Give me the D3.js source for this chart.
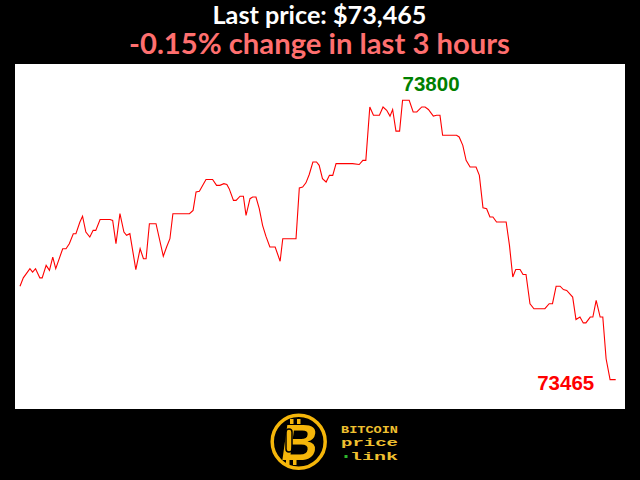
<!DOCTYPE html>
<html><head><meta charset="utf-8">
<script src="https://cdn.jsdelivr.net/npm/d3@7"></script>
<style>html,body{margin:0;padding:0;background:#000;} svg{display:block}</style>
</head><body>
<script>
// minutes since start of the 3-hour window (vertices of the price line)
const minutes = [0,1.0,3.0,3.8,4.7,6.0,6.7,7.9,8.9,9.9,
10.8,12.9,13.9,14.9,16.1,16.9,18.1,18.9,19.9,21.1,
22.1,22.9,24.2,27.2,28.0,29.0,30.2,31.4,32.2,33.2,
35.0,36.3,37.3,38.1,39.1,41.1,43.3,44.3,45.3,46.2,
51.2,52.3,53.2,54.2,56.2,58.2,59.4,60.4,61.6,62.5,
63.2,64.5,65.3,66.5,67.5,68.3,69.5,70.3,71.3,72.3,
73.3,74.3,75.5,77.1,78.6,79.4,83.4,84.4,85.4,86.4,
87.4,88.5,89.6,90.4,91.4,92.5,93.5,94.5,95.5,100.5,
102.5,103.6,104.5,105.7,106.8,108.6,109.7,110.8,111.8,112.6,
113.6,114.7,115.6,117.6,118.8,119.9,121.4,122.4,123.4,124.9,
125.9,126.9,127.7,131.9,132.7,133.8,134.8,136.0,137.8,138.8,
139.9,141.0,142.0,142.9,144.0,146.9,147.9,148.9,149.8,151.1,
152.0,152.9,154.1,155.3,158.6,159.9,160.9,162.0,163.2,164.2,
165.2,167.0,168.0,169.2,170.2,171.0,172.3,173.1,174.1,175.3,
176.1,177.1,178.3,180];
// BTC price in USD at each vertex
const prices = [73577,73587,73598,73594,73598,73587,73587,73602,73596,73612,
73598,73622,73622,73628,73640,73640,73654,73661,73642,73636,
73644,73644,73657,73657,73656,73628,73664,73642,73638,73640,
73597,73622,73610,73610,73652,73652,73613,73624,73634,73664,
73664,73668,73690,73691,73705,73705,73698,73698,73700,73699,
73694,73680,73680,73685,73685,73662,73682,73684,73684,73670,
73650,73637,73624,73624,73607,73634,73634,73695,73696,73701,
73711,73726,73726,73722,73706,73702,73710,73710,73724,73724,
73723,73728,73728,73792,73782,73782,73792,73788,73781,73789,
73763,73763,73800,73800,73786,73786,73792,73792,73789,73781,
73782,73782,73758,73758,73756,73746,73728,73720,73720,73710,
73671,73670,73660,73660,73654,73654,73626,73588,73597,73597,
73591,73591,73556,73550,73550,73556,73556,73577,73577,73573,
73572,73564,73537,73540,73533,73533,73540,73540,73560,73540,
73540,73490,73465,73465];
const titleText = "Last price: $73,465";
const subtitleText = "-0.15% change in last 3 hours";
const logoLines = ["BITCOIN", "price", "link"];

const W = 640, H = 480;
const svg = d3.select("body").append("svg").attr("width", W).attr("height", H);
svg.append("rect").attr("width", W).attr("height", H).attr("fill", "#000");
svg.append("rect").attr("x", 15).attr("y", 64).attr("width", 610).attr("height", 345).attr("fill", "#fff");

const data = minutes.map((m, i) => ({m, p: prices[i]}));
const pMax = d3.max(prices), pMin = d3.min(prices);
const x = d3.scaleLinear().domain([0, 180]).range([20, 615.7]);
const y = d3.scaleLinear().domain([pMin, pMax]).range([379.6, 100.3]);

svg.append("path").datum(data)
  .attr("d", d3.line().x(d => x(d.m)).y(d => y(d.p)))
  .attr("fill", "none").attr("stroke", "#ff0000").attr("stroke-width", 1.1);

// max / last labels
const maxPt = data.find(d => d.p === pMax);
const lastPt = data[data.length - 1];
svg.append("text").attr("x", x(maxPt.m)).attr("y", y(maxPt.p) - 9.5)
  .attr("font-family", "Liberation Sans, Arial, sans-serif").attr("font-weight", "bold")
  .attr("font-size", 20.5).attr("fill", "#008000").text(pMax);
svg.append("text").attr("x", x(lastPt.m) - 21.5).attr("y", y(lastPt.p) + 10.5)
  .attr("text-anchor", "end")
  .attr("font-family", "Liberation Sans, Arial, sans-serif").attr("font-weight", "bold")
  .attr("font-size", 20.5).attr("fill", "#ff0000").text(lastPt.p);

// titles, fitted to measured width
function fitText(txt, cx, by, targetW, color) {
  const t = svg.append("text").attr("x", cx).attr("y", by).attr("text-anchor", "middle")
    .attr("font-family", "Lato, 'Open Sans', sans-serif").attr("font-weight", "bold")
    .attr("font-size", 24).attr("fill", color).text(txt);
  const len = t.node().getComputedTextLength();
  t.attr("font-size", 24 * targetW / len);
  return t;
}
fitText(titleText, 319.5, 23.5, 214, "#ffffff");
fitText(subtitleText, 319.5, 53.5, 381, "#ff6f6f");

// logo
const gold = "#f5b60a";
const logo = svg.append("g");
logo.append("circle").attr("cx", 298.7).attr("cy", 441.7).attr("r", 26.5)
  .attr("fill", "#000").attr("stroke", gold).attr("stroke-width", 3.5);
logo.append("text").attr("x", 300).attr("y", 460).attr("text-anchor", "middle")
  .attr("transform", "skewX(-8) translate(62,0)")
  .attr("font-family", "Liberation Sans, Arial, sans-serif").attr("font-weight", "bold")
  .attr("font-size", 51).attr("fill", gold).text("B");
[[290, 419], [297, 419], [286, 460], [293, 460]].forEach(([bx, byy]) =>
  logo.append("rect").attr("x", bx).attr("y", byy).attr("width", 3.5).attr("height", 5).attr("fill", gold));
logo.append("rect").attr("x", 286).attr("y", 429).attr("width", 6).attr("height", 23).attr("rx", 3)
  .attr("fill", "none").attr("stroke", "#000").attr("stroke-width", 1.5);
const baselines = [432.5, 445.5, 459.5];
logoLines.forEach((s, i) => {
  const xs = i === 2 ? 350 : 341;
  logo.append("text").attr("x", xs).attr("y", baselines[i])
    .attr("font-family", "Liberation Mono, 'DejaVu Sans Mono', monospace").attr("font-weight", "bold")
    .attr("font-size", 11.5).attr("fill", "#f0c030")
    .attr("textLength", 398 - xs).attr("lengthAdjust", "spacingAndGlyphs").text(s);
});
logo.append("rect").attr("x", 344.5).attr("y", 455).attr("width", 3).attr("height", 3).attr("fill", "#2db82d");
</script>
</body></html>
